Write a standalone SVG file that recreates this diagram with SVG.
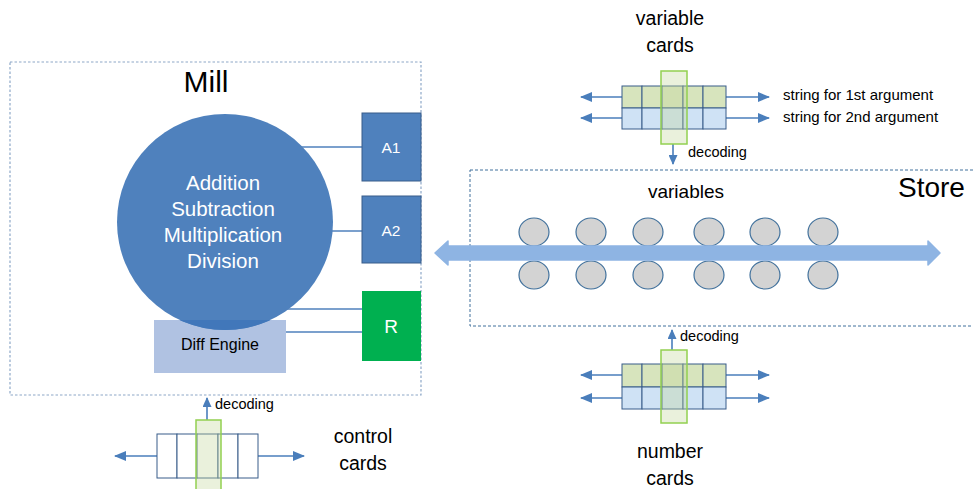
<svg xmlns="http://www.w3.org/2000/svg" width="973" height="489" viewBox="0 0 973 489">
<defs>
<style>
text{font-family:"Liberation Sans",Arial,sans-serif;fill:#000}
.w{fill:#fff}
.dashM{fill:none;stroke:#8EA8C8;stroke-width:1.2;stroke-dasharray:2.5 2}
.dashS{fill:none;stroke:#41719C;stroke-width:1;stroke-dasharray:3 2}
.cell{stroke:#385D8A;stroke-width:1}
.g{fill:#D7E4BD}
.b{fill:#CFE2F5}
.hl{fill:#C4D79B;fill-opacity:0.35;stroke:#92D050;stroke-width:1.5}
.ar{stroke:#4A7EBB;stroke-width:1.6;fill:none}
.link{stroke:#4F81BD;stroke-width:1.5;fill:none}
.var{fill:#D3D3D3;stroke:#41719C;stroke-width:1.2}
</style>
<marker id="ah" viewBox="0 0 12 10" refX="11" refY="5" markerWidth="12" markerHeight="10" markerUnits="userSpaceOnUse" orient="auto">
<path d="M0,0 L12,5 L0,10 z" fill="#4A7EBB"/>
</marker>
<marker id="ahs" viewBox="0 0 10 9" refX="9" refY="4.5" markerWidth="10" markerHeight="9" markerUnits="userSpaceOnUse" orient="auto">
<path d="M0,0 L10,4.5 L0,9 z" fill="#4A7EBB"/>
</marker>
<clipPath id="deClip"><rect x="154" y="320" width="132" height="53"/></clipPath>
</defs>

<g id="mill">
<rect class="dashM" x="10" y="62" width="411" height="333"/>
<text x="206" y="92" font-size="30" text-anchor="middle">Mill</text>
</g>

<g id="connectors">
<line class="link" x1="290" y1="147" x2="362" y2="147"/>
<line class="link" x1="300" y1="231" x2="362" y2="231"/>
<line class="link" x1="280" y1="309" x2="362" y2="309"/>
<line class="link" x1="286" y1="332" x2="362" y2="332"/>
<!-- variable cards arrows -->
<line class="ar" x1="622" y1="97" x2="581" y2="97" marker-end="url(#ah)"/>
<line class="ar" x1="622" y1="118" x2="581" y2="118" marker-end="url(#ah)"/>
<line class="ar" x1="726" y1="97" x2="769" y2="97" marker-end="url(#ah)"/>
<line class="ar" x1="726" y1="118" x2="769" y2="118" marker-end="url(#ah)"/>
<line class="ar" x1="673" y1="144" x2="673" y2="164" marker-end="url(#ahs)"/>
<!-- number cards arrows -->
<line class="ar" x1="622" y1="375" x2="581" y2="375" marker-end="url(#ah)"/>
<line class="ar" x1="622" y1="398" x2="581" y2="398" marker-end="url(#ah)"/>
<line class="ar" x1="726" y1="375" x2="769" y2="375" marker-end="url(#ah)"/>
<line class="ar" x1="726" y1="398" x2="769" y2="398" marker-end="url(#ah)"/>
<line class="ar" x1="672" y1="350" x2="672" y2="330" marker-end="url(#ahs)"/>
<!-- control cards arrows -->
<line class="ar" x1="157" y1="456" x2="115" y2="456" marker-end="url(#ah)"/>
<line class="ar" x1="258" y1="456" x2="304" y2="456" marker-end="url(#ah)"/>
<line class="ar" x1="207" y1="420" x2="207" y2="398" marker-end="url(#ahs)"/>
</g>

<g id="diff-engine">
<rect x="154" y="320" width="132" height="53" fill="#B0C2E2"/>
</g>

<g id="alu">
<circle cx="225" cy="222" r="108" fill="#4F81BD"/>
<circle cx="225" cy="222" r="108" fill="#4177BA" clip-path="url(#deClip)"/>
<text class="w" x="223" y="190" font-size="20.5" text-anchor="middle">Addition</text>
<text class="w" x="223" y="216" font-size="20.5" text-anchor="middle">Subtraction</text>
<text class="w" x="223" y="242" font-size="20.5" text-anchor="middle">Multiplication</text>
<text class="w" x="223" y="268" font-size="20.5" text-anchor="middle">Division</text>
</g>
<text x="220" y="350" font-size="16" text-anchor="middle">Diff Engine</text>

<g id="A1">
<rect x="362" y="113" width="59" height="68" fill="#4F81BD" stroke="#385D8A" stroke-width="1"/>
<text class="w" x="391" y="153" font-size="15.5" text-anchor="middle">A1</text>
</g>
<g id="A2">
<rect x="362" y="196" width="59" height="67" fill="#4F81BD" stroke="#385D8A" stroke-width="1"/>
<text class="w" x="391" y="236" font-size="15.5" text-anchor="middle">A2</text>
</g>
<g id="R">
<rect x="362" y="291" width="59" height="70" fill="#00B050"/>
<text class="w" x="391" y="333" font-size="19" text-anchor="middle">R</text>
</g>

<g id="store">
<rect class="dashS" x="470" y="170" width="530" height="156"/>
<text x="898" y="197" font-size="28">Store</text>
<text x="686" y="198" font-size="19" text-anchor="middle">variables</text>
<g id="variables">
<ellipse class="var" cx="534" cy="232" rx="15" ry="14"/>
<ellipse class="var" cx="591" cy="232" rx="15" ry="14"/>
<ellipse class="var" cx="648" cy="232" rx="15" ry="14"/>
<ellipse class="var" cx="709" cy="232" rx="15" ry="14"/>
<ellipse class="var" cx="765" cy="232" rx="15" ry="14"/>
<ellipse class="var" cx="823" cy="232" rx="15" ry="14"/>
<ellipse class="var" cx="534" cy="275" rx="15" ry="14"/>
<ellipse class="var" cx="591" cy="275" rx="15" ry="14"/>
<ellipse class="var" cx="648" cy="275" rx="15" ry="14"/>
<ellipse class="var" cx="709" cy="275" rx="15" ry="14"/>
<ellipse class="var" cx="765" cy="275" rx="15" ry="14"/>
<ellipse class="var" cx="823" cy="275" rx="15" ry="14"/>
</g>
<path d="M435,253 L448,241 L448,246 L928,246 L928,241 L940,253 L928,265 L928,260 L448,260 L448,265 Z" fill="#8EB4E3" stroke="#8EB4E3" stroke-width="1.5" stroke-linejoin="round"/>
</g>

<g id="variable-cards">
<rect class="cell g" x="622" y="86" width="20" height="22"/>
<rect class="cell g" x="642" y="86" width="20" height="22"/>
<rect class="cell g" x="662" y="86" width="21" height="22"/>
<rect class="cell g" x="683" y="86" width="20" height="22"/>
<rect class="cell g" x="703" y="86" width="23" height="22"/>
<rect class="cell b" x="622" y="108" width="20" height="21"/>
<rect class="cell b" x="642" y="108" width="20" height="21"/>
<rect class="cell b" x="662" y="108" width="21" height="21"/>
<rect class="cell b" x="683" y="108" width="20" height="21"/>
<rect class="cell b" x="703" y="108" width="23" height="21"/>
<rect class="hl" x="661" y="71" width="26" height="73"/>
<text x="670" y="25" font-size="19.5" text-anchor="middle">variable</text>
<text x="670" y="52" font-size="19.5" text-anchor="middle">cards</text>
<text x="783" y="100" font-size="15">string for 1st argument</text>
<text x="783" y="122" font-size="15">string for 2nd argument</text>
<text x="688" y="157" font-size="14.5">decoding</text>
</g>

<g id="number-cards">
<rect class="cell g" x="622" y="364" width="20" height="23"/>
<rect class="cell g" x="642" y="364" width="20" height="23"/>
<rect class="cell g" x="662" y="364" width="21" height="23"/>
<rect class="cell g" x="683" y="364" width="20" height="23"/>
<rect class="cell g" x="703" y="364" width="23" height="23"/>
<rect class="cell b" x="622" y="387" width="20" height="22"/>
<rect class="cell b" x="642" y="387" width="20" height="22"/>
<rect class="cell b" x="662" y="387" width="21" height="22"/>
<rect class="cell b" x="683" y="387" width="20" height="22"/>
<rect class="cell b" x="703" y="387" width="23" height="22"/>
<rect class="hl" x="661" y="350" width="26" height="73"/>
<text x="680" y="341" font-size="14.5">decoding</text>
<text x="670" y="458" font-size="19.5" text-anchor="middle">number</text>
<text x="670" y="485" font-size="19.5" text-anchor="middle">cards</text>
</g>

<g id="control-cards">
<rect class="cell" fill="#fff" x="157" y="434" width="20" height="44"/>
<rect class="cell" fill="#fff" x="177" y="434" width="20" height="44"/>
<rect class="cell" fill="#fff" x="197" y="434" width="21" height="44"/>
<rect class="cell" fill="#fff" x="218" y="434" width="20" height="44"/>
<rect class="cell" fill="#fff" x="238" y="434" width="20" height="44"/>
<rect class="hl" x="196" y="420" width="25" height="75"/>
<text x="215" y="409" font-size="14.5">decoding</text>
<text x="363" y="443" font-size="19.5" text-anchor="middle">control</text>
<text x="363" y="470" font-size="19.5" text-anchor="middle">cards</text>
</g>
</svg>
